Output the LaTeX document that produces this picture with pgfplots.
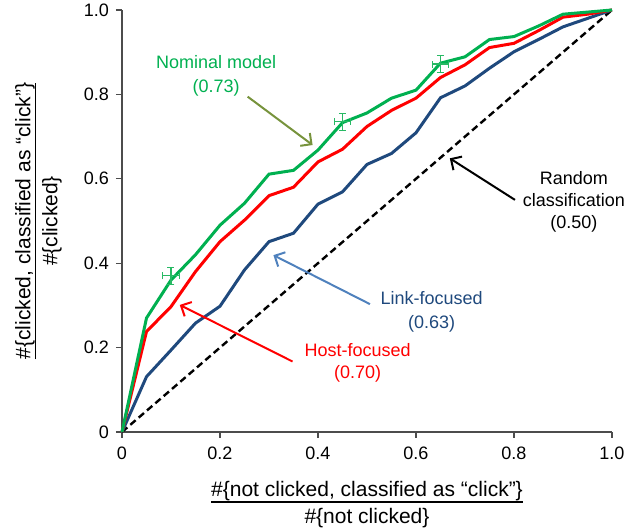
\documentclass[border=0pt]{standalone}
\usepackage{fontspec}
\setmainfont{Liberation Sans}
\usepackage{pgfplots}
\pgfplotsset{compat=1.18}
\usetikzlibrary{arrows.meta}
\setlength{\arrayrulewidth}{0.8pt}

\definecolor{nomgreen}{RGB}{0,176,80}
\definecolor{errgreen}{RGB}{40,185,100}
\definecolor{olivearr}{RGB}{119,147,60}
\definecolor{linkblue}{RGB}{31,73,125}
\definecolor{linkarr}{RGB}{79,129,189}
\definecolor{hostred}{RGB}{255,0,0}

% fraction-like axis label
\newcommand\fraclab[2]{\begin{tabular}{@{}c@{}}#1\\[-1.05pt]\hline\rule{0pt}{10.5pt}#2\end{tabular}}

\pgfplotstableread{
x     nominal host  link
0     0      0      0
0.05  0.270  0.238  0.131
0.10  0.360  0.297  0.194
0.15  0.420  0.380  0.258
0.20  0.490  0.451  0.298
0.25  0.542  0.502  0.384
0.30  0.611  0.560  0.451
0.35  0.620  0.580  0.471
0.40  0.668  0.640  0.540
0.45  0.733  0.670  0.569
0.50  0.756  0.724  0.634
0.55  0.791  0.762  0.660
0.60  0.810  0.791  0.709
0.65  0.874  0.840  0.792
0.70  0.889  0.870  0.820
0.75  0.930  0.911  0.862
0.80  0.937  0.921  0.901
0.85  0.962  0.951  0.930
0.90  0.990  0.983  0.960
0.95  0.995  0.990  0.980
1.00  1      1      1
}\roc

\begin{document}
\begin{tikzpicture}
\begin{axis}[
    scale only axis,
    width=245pt, height=211pt,
    xmin=0, xmax=1, ymin=0, ymax=1,
    axis lines=left,
    axis line style={-, black!70, line width=0.6pt},
    tick style={black!70, line width=0.6pt},
    tick align=outside,
    major tick length=3pt,
    xtick={0,0.2,0.4,0.6,0.8,1}, xticklabels={0,0.2,0.4,0.6,0.8,1.0},
    ytick={0,0.2,0.4,0.6,0.8,1}, yticklabels={0,0.2,0.4,0.6,0.8,1.0},
    tick label style={font=\fontsize{9}{10}\selectfont},
    yticklabel style={inner ysep=1pt},
    xticklabel shift=1pt,
    xlabel={\fraclab{\#\{not clicked, classified as “click”\}}{\#\{not clicked\}}},
    ylabel={\fraclab{\#\{clicked, classified as “click”\}}{\#\{clicked\}}},
    label style={font=\fontsize{10.5}{11}\selectfont, inner sep=0pt},
    xlabel style={at={(axis description cs:0.5,-0.116)}, anchor=north},
    ylabel style={at={(axis description cs:-0.1176,0.5)}, anchor=south},
    clip=false,
]
\addplot[black, line width=1.2pt, dash pattern=on 3.5pt off 2pt] coordinates {(0,0) (1,1)};
\addplot[linkblue, line width=1.5pt] table[x=x, y=link] {\roc};
\addplot[hostred, line width=1.5pt] table[x=x, y=host] {\roc};
\addplot[nomgreen, line width=1.5pt] table[x=x, y=nominal] {\roc};
\addplot[draw=none, mark=none,
    error bars/.cd, x dir=both, x explicit, y dir=both, y explicit,
    error mark=|,
    error bar style={draw=errgreen, line width=0.6pt},
    error mark options={draw=errgreen, line width=0.6pt, mark size=1.75pt}]
  coordinates {
    (0.10, 0.370) +- (0.017, 0.02)
    (0.45, 0.735) +- (0.017, 0.02)
    (0.65, 0.872) +- (0.017, 0.02)
  };

\node[nomgreen, font=\fontsize{9}{12}\selectfont, align=center] at (axis cs:0.192,0.845) {Nominal model\\(0.73)};
\node[black, font=\fontsize{9}{11}\selectfont, align=center] at (axis cs:0.922,0.546) {Random\\classification\\(0.50)};
\node[linkblue, font=\fontsize{9}{12}\selectfont, align=center] at (axis cs:0.632,0.284) {Link-focused\\(0.63)};
\node[hostred, font=\fontsize{9}{11}\selectfont, align=center] at (axis cs:0.481,0.165) {Host-focused\\(0.70)};

\draw[olivearr, line width=1pt, -{Straight Barb[length=4pt, width=8pt]}] (axis cs:0.2565,0.7946) -- (axis cs:0.389,0.680);
\draw[black, line width=1pt, -{Straight Barb[length=4pt, width=8pt]}] (axis cs:0.802,0.550) -- (axis cs:0.669,0.6485);
\draw[linkarr, line width=1pt, -{Straight Barb[length=4pt, width=8pt]}] (axis cs:0.506,0.303) -- (axis cs:0.309,0.419);
\draw[hostred, line width=1pt, -{Straight Barb[length=4pt, width=8pt]}] (axis cs:0.348,0.167) -- (axis cs:0.118,0.301);
\end{axis}
\path ([xshift=-61pt,yshift=-49pt]current axis.south west) rectangle ([xshift=13.5pt,yshift=5pt]current axis.north east);
\end{tikzpicture}
\end{document}
